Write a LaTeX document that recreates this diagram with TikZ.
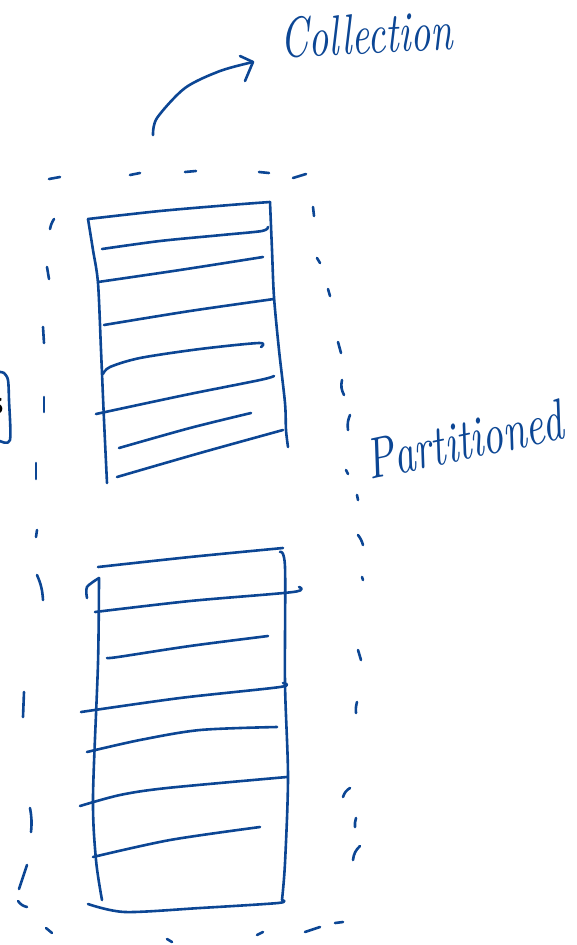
\documentclass[tikz,border=0pt]{standalone}
\usepackage{graphicx}
\definecolor{ink}{RGB}{12,70,148}
\tikzset{
  pen/.style={draw=ink, line width=2.6pt, line cap=round, line join=round},
  dsh/.style={pen},
  hand/.style={text=ink, inner sep=0pt, font=\itshape}
}
\begin{document}
\begin{tikzpicture}[x=1pt,y=-1pt]
\useasboundingbox (0,0) rectangle (577,945);
% ---- dashed outline (hand-drawn dashes)
\draw[dsh] (49,179)--(60,177);
\draw[dsh] (130,175)--(140,173);
\draw[dsh] (185,172)--(196,171);
\draw[dsh] (259,172)--(269,173);
\draw[dsh] (293,178)--(306,174);
% left
\draw[dsh] (54,219) to[bend right=10] (50,229);
\draw[dsh] (47,267)--(49,279);
\draw[dsh] (43,327)--(44,343);
\draw[dsh] (44,397)--(44,412);
\draw[dsh] (36,463)--(36,479);
\draw[dsh] (37,530)--(36,537);
\draw[dsh] (37,575) to[bend left=10] (43,600);
\draw[dsh] (24,692)--(23,717);
\draw[dsh] (30,808) to[bend left=8] (31,832);
\draw[dsh] (27,865)--(19,889);
\draw[dsh] (18,901) to[bend right=20] (27,907);
% bottom
\draw[dsh] (46,928)--(52,933);
\draw[dsh] (167,939)--(172,942);
\draw[dsh] (257,935)--(263,932);
\draw[dsh] (305,932)--(320,927);
\draw[dsh] (335,923)--(343,922);
% right
\draw[dsh] (313,207)--(314,216);
\draw[dsh] (317,258)--(320,263);
\draw[dsh] (328,289)--(330,296);
\draw[dsh] (338,342)--(341,353);
\draw[dsh] (342,380) to[bend right=20] (344,395);
\draw[dsh] (350,415) to[bend right=15] (348,430);
\draw[dsh] (346,470)--(348,474);
\draw[dsh] (357,495)--(358,500);
\draw[dsh] (358,535) to[bend left=10] (363,545);
\draw[dsh] (362,577)--(363,580);
\draw[dsh] (358,650)--(361,660);
\draw[dsh] (357,702) to[bend right=10] (356,713);
\draw[dsh] (350,788) to[bend right=20] (343,797);
\draw[dsh] (356,818) to[bend right=10] (355,827);
\draw[dsh] (360,846) to[bend right=20] (353,860);

% ---- upper partition (rows)
\draw[pen] plot[smooth] coordinates {(88,219) (160,211) (230,205) (270,202)};
\draw[pen] plot[smooth] coordinates {(270,202) (272,250) (274,297) (279,350) (285,403) (286,430) (288,447)};
\draw[pen] plot[smooth] coordinates {(88,219) (93,250) (98,283) (101,350) (104,420) (107,483)};
\draw[pen] plot[smooth] coordinates {(102,249) (160,241) (222,235) (262,231) (268,227)};
\draw[pen] plot[smooth] coordinates {(98,282) (180,270) (263,257)};
\draw[pen] plot[smooth] coordinates {(104,325) (190,311) (274,299)};
\draw[pen] plot[smooth] coordinates {(103,374) (110,367) (140,358) (200,349) (259,343) (261,347)};
\draw[pen] plot[smooth] coordinates {(96,414) (185,395) (260,380) (274,376)};
\draw[pen] plot[smooth] coordinates {(119,448) (190,428) (251,413)};
\draw[pen] plot[smooth] coordinates {(117,477) (200,453) (283,430)};

% ---- lower partition (rows)
\draw[pen] plot[smooth] coordinates {(98,567) (190,557) (283,548)};
\draw[pen] plot[smooth] coordinates {(280,552) (285,567) (285,683) (288,777) (285,863) (282,900)};
\draw[pen] plot[smooth] coordinates {(88,904) (125,912) (200,908) (278,903) (282,900)};
\draw[pen] plot[smooth] coordinates {(87,598) (87,587) (99,578)};
\draw[pen] plot[smooth] coordinates {(99,578) (98,663) (93,797) (96,860) (102,900)};
\draw[pen] plot[smooth] coordinates {(95,612) (190,601) (293,592) (299,587)};
\draw[pen] plot[smooth] coordinates {(107,658) (118,657) (190,646) (268,636)};
\draw[pen] plot[smooth] coordinates {(81,712) (180,698) (280,687) (283,683)};
\draw[pen] plot[smooth] coordinates {(87,752) (140,740) (200,730) (277,727)};
\draw[pen] plot[smooth] coordinates {(80,806) (120,795) (167,788) (287,777)};
\draw[pen] plot[smooth] coordinates {(93,857) (170,840) (260,827)};

% ---- arrow to "Collection"
\draw[pen] plot[smooth] coordinates {(153,135) (157,118) (185,88) (220,71) (253,62)};
\draw[pen] (240,56) -- (253,62) -- (245,81);

% ---- labels
\node[hand, anchor=base west, rotate=3] (coll) at (281,58) {\resizebox{172pt}{40pt}{Collection}};
\node[hand, anchor=base west, rotate=12] (part) at (370,480) {\resizebox{200pt}{40pt}{Partitioned}};

% ---- partial box at left edge
\draw[pen] plot[smooth] coordinates {(0,372) (4,373) (8,380) (9,400) (10,440) (0,441)};
\node[text=black, inner sep=0pt, font=\fontsize{22}{22}\selectfont\sffamily\bfseries] (frag) at (-3,406) {S};
\end{tikzpicture}
\end{document}
